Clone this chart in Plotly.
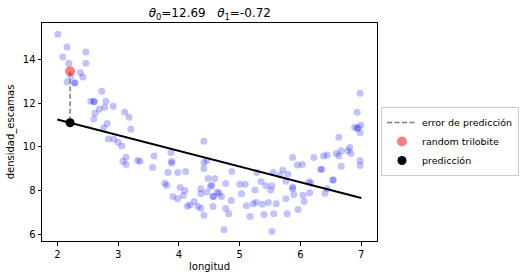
import plotly.graph_objects as go

# scatter data (longitud, densidad_escamas)
longitud = [
    2.01, 2.09, 2.16, 2.19, 2.47, 2.47, 2.38, 2.42, 2.16, 2.22, 2.28, 2.29,
    2.73, 2.55, 2.60, 2.61, 2.80, 2.69, 2.62, 2.78, 2.92, 2.60, 2.82, 2.76,
    3.11, 3.18, 3.21, 2.84, 2.93, 3.00, 3.06, 3.13, 3.08, 3.13, 3.32, 3.36,
    3.57, 3.59, 3.87, 3.88, 3.88, 3.82, 3.98, 4.11, 3.77, 3.80, 4.02, 4.10,
    4.07, 3.90, 3.98, 4.14, 4.18, 4.25, 4.31, 4.36, 4.41,
    4.41, 4.41, 4.46, 4.41, 4.48, 4.59, 4.36, 4.36, 4.46, 4.52, 4.54, 4.56,
    4.57, 4.63, 4.66, 4.70, 4.56, 4.77, 4.87, 4.86, 4.77, 4.82, 4.74,
    5.00, 5.09, 5.03, 5.11, 5.17, 5.25, 5.27, 5.22, 5.28, 5.35, 5.37, 5.40,
    5.43, 5.47, 5.51, 5.53, 5.55, 5.56, 5.53, 5.60, 5.71, 5.66, 5.76, 5.79,
    5.76, 5.78, 5.87, 5.87, 5.87, 5.89, 5.95, 5.96, 6.03, 6.04, 6.06, 6.14,
    6.17, 6.15, 6.22, 6.33, 6.35, 6.38, 6.44, 6.40, 6.44, 6.53, 6.54, 6.59,
    6.63, 6.63, 6.67, 6.67, 6.78, 6.81, 6.83, 6.93, 6.89, 6.93, 6.95, 6.98,
    6.99, 6.98, 6.98, 6.98,
]
densidad = [
    15.16, 14.11, 14.57, 13.83, 14.34, 13.83, 13.39, 13.19, 12.97, 13.23, 12.93, 12.92,
    12.54, 12.08, 12.07, 12.06, 12.08, 11.72, 11.53, 11.81, 11.85, 11.27, 11.07, 10.87,
    11.58, 11.35, 10.80, 10.35, 10.35, 10.20, 10.03, 9.52, 9.33, 9.19, 9.37, 9.33,
    9.05, 9.57, 9.74, 9.33, 9.24, 8.82, 8.82, 8.87, 8.33, 8.22, 8.13, 7.99,
    7.76, 7.72, 7.62, 7.27, 7.33, 7.49, 7.27, 7.18, 6.86,
    10.25, 9.28, 9.37, 9.00, 8.54, 8.54, 8.08, 7.85, 7.93, 8.19, 8.24, 7.72,
    7.72, 7.93, 7.87, 7.72, 7.26, 8.31, 8.87, 7.54, 7.17, 6.93, 6.20,
    8.28, 8.28, 7.85, 7.30, 6.80, 8.02, 7.46, 7.39, 8.82, 8.41, 7.36, 6.90,
    8.21, 7.44, 8.00, 8.21, 8.82, 6.93, 6.11, 7.39, 8.93, 8.71, 8.42, 8.74,
    7.62, 6.93, 9.51, 8.16, 8.08, 7.81, 9.16, 7.12, 9.19, 7.78, 7.49, 8.39,
    8.34, 7.89, 9.51, 8.97, 8.96, 9.57, 9.62, 7.87, 8.08, 8.48, 8.48, 9.69,
    10.43, 9.57, 9.82, 9.11, 9.82, 9.97, 9.69, 11.58, 10.89, 10.84, 10.87, 12.45,
    10.98, 10.64, 9.37, 9.14,
]

theta0 = 12.69
theta1 = -0.72
x_line = [2.0, 7.0]
y_line = [theta0 + theta1 * v for v in x_line]

random_x = [2.21]
random_y = [13.46]
pred_y = [theta0 + theta1 * random_x[0]]

fig = go.Figure()
fig.add_trace(go.Scatter(
    x=longitud, y=densidad, mode="markers",
    marker=dict(size=7, color="blue", opacity=0.24, line=dict(width=0)),
    showlegend=False, hoverinfo="skip"))
fig.add_trace(go.Scatter(
    x=x_line, y=y_line, mode="lines",
    line=dict(color="black", width=2), showlegend=False))
fig.add_trace(go.Scatter(
    x=[random_x[0], random_x[0]], y=[random_y[0], pred_y[0]], mode="lines",
    line=dict(color="gray", width=1.5, dash="5px,2.5px"),
    name="error de predicción"))
fig.add_trace(go.Scatter(
    x=random_x, y=random_y, mode="markers",
    marker=dict(size=10, color="red", opacity=0.5, line=dict(width=0)),
    name="random trilobite"))
fig.add_trace(go.Scatter(
    x=random_x, y=pred_y, mode="markers",
    marker=dict(size=9, color="black", line=dict(width=0)),
    name="predicción"))

axis_common = dict(
    showline=True, linecolor="black", linewidth=1, mirror=True,
    ticks="outside", ticklen=3.5, tickwidth=1, tickcolor="black",
    showgrid=False, zeroline=False, automargin=False,
    tickfont=dict(size=10, color="black"),
)

fig.update_layout(
    width=520, height=279,
    margin=dict(l=42, r=143, t=23, b=38, autoexpand=False),
    paper_bgcolor="white", plot_bgcolor="white",
    font=dict(family="DejaVu Sans", size=10, color="black"),
    title=dict(
        text="<i>θ</i><sub>0</sub>=12.69&nbsp;&nbsp;&nbsp;<i>θ</i><sub>1</sub>=-0.72",
        x=(42.3 + 377.3) / 2 / 520, xanchor="center",
        y=1 - 13 / 279, yanchor="middle",
        font=dict(size=12, color="black")),
    xaxis=dict(range=[1.748, 7.258], tickvals=[2, 3, 4, 5, 6, 7],
               title=dict(text="longitud", standoff=4, font=dict(size=10)),
               **axis_common),
    yaxis=dict(range=[5.68, 15.67], tickvals=[6, 8, 10, 12, 14],
               title=dict(text="densidad_escamas", standoff=6, font=dict(size=10)),
               **axis_common),
    legend=dict(
        xref="container", yref="container",
        x=381 / 520, y=1 - 107 / 279, xanchor="left", yanchor="top",
        bordercolor="#cccccc", borderwidth=1, bgcolor="white",
        font=dict(size=9.5), tracegroupgap=0, itemwidth=30),
)

fig.write_html("out.html")
